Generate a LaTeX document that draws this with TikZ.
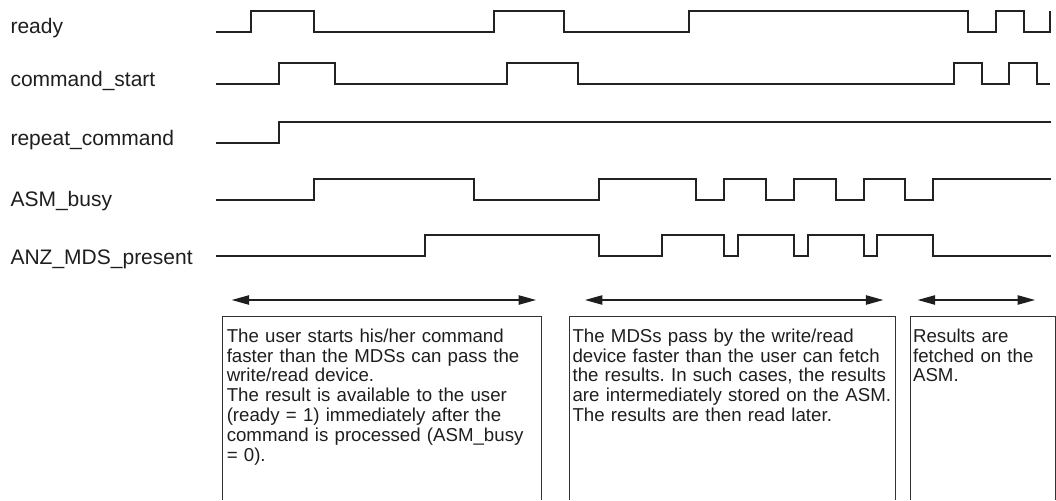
\documentclass[tikz,border=0pt]{standalone}
\usepackage{fontspec}
\setmainfont{Liberation Sans}
\usetikzlibrary{arrows.meta}
\frenchspacing
\definecolor{ink}{HTML}{1E1E1E}
\definecolor{wire}{HTML}{222222}
\definecolor{frameline}{HTML}{333333}
\begin{document}
\begin{tikzpicture}[x=0.75pt,y=-0.75pt,
  wave/.style={line width=1.5pt, draw=wire, line join=miter},
  siglabel/.style={anchor=base west, inner sep=0pt, text=ink,
    font=\fontsize{15.75}{18}\selectfont},
  boxtext/.style={anchor=north west, inner sep=0pt, align=left, text=ink,
    font=\fontsize{14}{14.85}\selectfont},
  frame/.style={line width=0.75pt, draw=frameline},
  span/.style={line width=0.9pt, draw=ink,
    {Triangle[length=13pt,width=7pt]}-{Triangle[length=13pt,width=7pt]}}]
\useasboundingbox (0,0) rectangle (1056,500);

% signal names
\node[siglabel] (lready)  at (10.3,33.3)  {ready};
\node[siglabel] (lstart)  at (10.3,86.7)  {command\_start};
\node[siglabel] (lrepeat) at (10.3,145)   {repeat\_command};
\node[siglabel] (lbusy)   at (10.3,206.7) {ASM\_busy};
\node[siglabel] (lmds)    at (10.3,264)   {ANZ\_MDS\_present};

% waveforms: each point is (edge position, new level)
\draw[wave] (216,32) -| (250.7,10.7) -| (314,32) -| (494,10.7) -| (564,32)
  -| (689.3,10.7) -| (967.7,32) -| (995.7,10.7) -| (1023.7,32) -| (1050,10.7);
\draw[wave] (216,84.3) -| (278.7,63.3) -| (334.7,84.3) -| (507.3,63.3) -| (578,84.3)
  -| (954.3,63.3) -| (981.7,84.3) -| (1009,63.3) -| (1036.7,84.3) -- (1050,84.3);
\draw[wave] (216,142.7) -| (278.7,121.7) -- (1051,121.7);
\draw[wave] (216,200.3) -| (314,179.3) -| (474,200.3) -| (599,179.3) -| (696.3,200.3)
  -| (724,179.3) -| (766,200.3) -| (794,179.3) -| (835.7,200.3) -| (863.5,179.3)
  -| (905.3,200.3) -| (933,179.3) -- (1051,179.3);
\draw[wave] (216,255.7) -| (425,234.7) -| (599,255.7) -| (661.7,234.7) -| (724,255.7)
  -| (738,234.7) -| (794,255.7) -| (807.7,234.7) -| (863.5,255.7) -| (877,234.7)
  -| (933,255.7) -- (1051,255.7);

% phase spans
\coordinate (s1a) at (231.7,300);
\coordinate (s1b) at (536,300);
\coordinate (s2a) at (585,300);
\coordinate (s2b) at (883.3,300);
\coordinate (s3a) at (917.7,300);
\coordinate (s3b) at (1035,300);
\draw[span] (s1a) -- (s1b);
\draw[span] (s2a) -- (s2b);
\draw[span] (s3a) -- (s3b);

% explanation boxes (open towards the bottom edge)
\draw[frame] (222.7,500) |- (541.7,316) -- (541.7,500);
\draw[frame] (569.3,500) |- (895.3,316) -- (895.3,500);
\draw[frame] (910,500) |- (1055,316) -- (1055,500);

\node[boxtext, text width=236pt] (t1) at (226.5,328.5) {The user starts his/her command\\
faster than the MDSs can pass the\\
write/read device.\\
The result is available to the user\\
(ready = 1) immediately after the\\
command is processed (ASM\_busy\\
= 0).};
\node[boxtext, text width=242pt] (t2) at (572.3,328.5) {The MDSs pass by the write/read\\
device faster than the user can fetch\\
the results. In such cases, the results\\
are intermediately stored on the ASM.\\
The results are then read later.};
\node[boxtext, text width=106pt] (t3) at (912.8,328.5) {Results are\\
fetched on the\\
ASM.};
\end{tikzpicture}
\end{document}
